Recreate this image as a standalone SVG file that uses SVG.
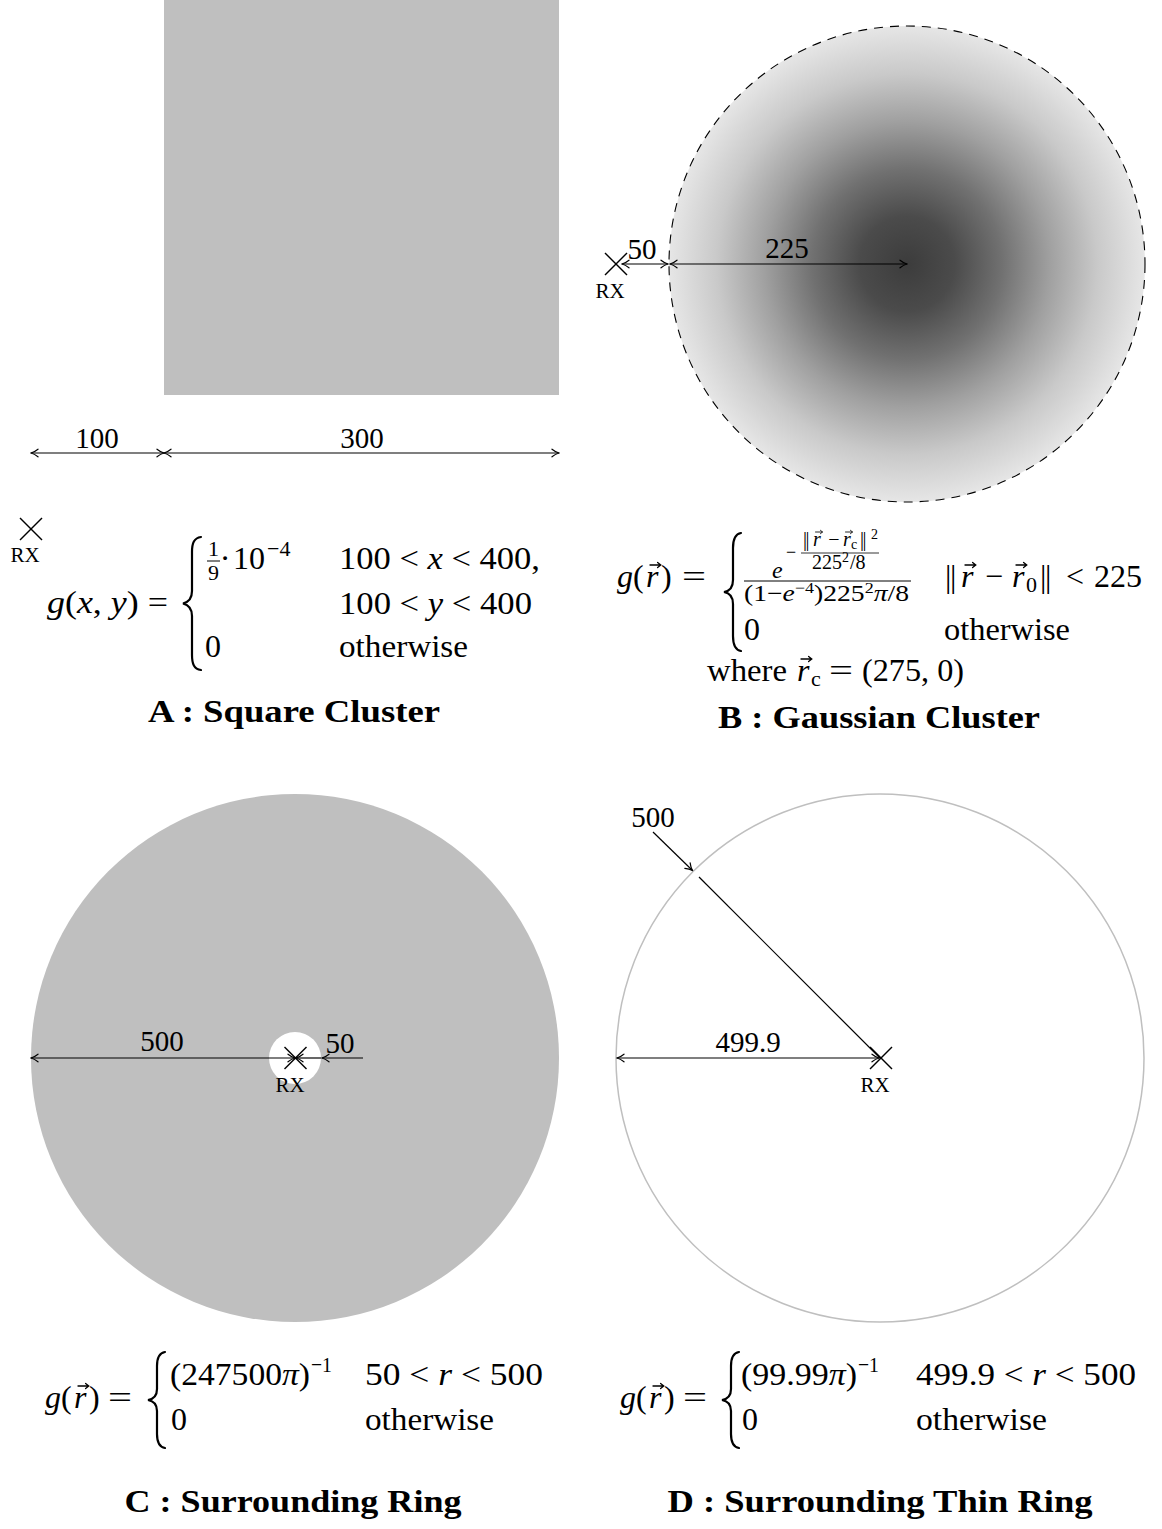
<svg xmlns="http://www.w3.org/2000/svg" width="1162" height="1529" viewBox="0 0 1162 1529">
<style>
.f{font-family:"Liberation Serif","DejaVu Serif",serif;fill:#000}
.m{font-size:32px}
.sm{font-size:22px}
.s2{font-size:20px}
.s1{font-size:14px}
.d{font-size:29px}
.rx{font-size:21px}
.ti{font-size:31px;font-weight:bold}
.i{font-style:italic}
.nb{letter-spacing:-1.5px}
.ln{stroke:#000;stroke-width:1.2;fill:none}
.dim{stroke:#000;stroke-width:1.2;fill:none;marker-start:url(#ah);marker-end:url(#ah)}
.one{stroke:#000;stroke-width:1.2;fill:none;marker-end:url(#ah)}
.br{stroke:#000;stroke-width:2.2;fill:none;stroke-linecap:round}
.cr{stroke:#000;stroke-width:1.4}
.vc{stroke:#000;stroke-width:1.3;fill:none;stroke-linecap:round}
</style>
<defs>
<marker id="ah" viewBox="-8 -5 9 10" refX="0" refY="0" markerWidth="9" markerHeight="10" orient="auto-start-reverse" markerUnits="userSpaceOnUse">
<path d="M-7,-3.8 C-4.5,-1.8 -1.5,-0.4 0,0 C-1.5,0.4 -4.5,1.8 -7,3.8" fill="none" stroke="#000" stroke-width="1.2" stroke-linecap="round"/>
</marker>
<radialGradient id="gb" gradientUnits="userSpaceOnUse" cx="907" cy="264" r="238">
<stop offset="0" stop-color="#3c3c3c"/>
<stop offset="0.2" stop-color="#4b4b4b"/>
<stop offset="0.4" stop-color="#717171"/>
<stop offset="0.6" stop-color="#a0a0a0"/>
<stop offset="0.8" stop-color="#c9c9c9"/>
<stop offset="1" stop-color="#e6e6e6"/>
</radialGradient>
<g id="x"><line class="cr" x1="-11" y1="-11" x2="11" y2="11"/><line class="cr" x1="-11" y1="11" x2="11" y2="-11"/></g>
<path id="vec" class="vc" d="M0,0 H10.5 M7.6,-2.6 L10.8,0 L7.6,2.6"/>
</defs>
<rect width="1162" height="1529" fill="#fff"/>

<!-- Panel A -->
<g id="squareCluster">
<rect x="164" y="0" width="395" height="395" fill="#bfbfbf"/>
</g>
<g id="rxA">
<use href="#x" x="31" y="529"/>
<text class="f rx" x="25" y="562" text-anchor="middle">RX</text>
</g>

<!-- Panel B -->
<g id="gaussianCluster">
<circle cx="907" cy="264" r="238" fill="url(#gb)" stroke="#000" stroke-width="1.1" stroke-dasharray="9 7"/>
</g>
<g id="rxB">
<use href="#x" x="616" y="264"/>
<text class="f rx" x="610" y="298" text-anchor="middle">RX</text>
</g>

<!-- Panel C -->
<g id="surroundingRing">
<circle cx="295" cy="1058" r="264" fill="#bfbfbf"/>
<circle cx="295" cy="1058" r="26" fill="#fff"/>
</g>
<g id="rxC">
<use href="#x" x="295.5" y="1058"/>
<text class="f rx" x="290" y="1092" text-anchor="middle">RX</text>
</g>

<!-- Panel D -->
<g id="surroundingThinRing">
<circle cx="880" cy="1058" r="264" fill="none" stroke="#bfbfbf" stroke-width="1.5"/>
</g>
<g id="rxD">
<use href="#x" x="881" y="1058"/>
<text class="f rx" x="875" y="1092" text-anchor="middle">RX</text>
</g>

<!-- connectors -->
<g id="connectors">
<line class="dim" x1="31" y1="453" x2="164" y2="453"/>
<line class="dim" x1="164" y1="453" x2="559" y2="453"/>
<line class="dim" x1="622" y1="264" x2="668" y2="264"/>
<line class="dim" x1="670" y1="264" x2="907" y2="264"/>
<line class="dim" x1="31" y1="1058" x2="295" y2="1058"/>
<line class="one" x1="321" y1="1058" x2="296" y2="1058"/>
<line class="one" x1="363" y1="1058" x2="322" y2="1058"/>
<line class="dim" x1="617" y1="1058" x2="879" y2="1058"/>
<line class="one" x1="653" y1="832" x2="692.5" y2="870.5"/>
<line class="ln" x1="699" y1="877" x2="880" y2="1058"/>
</g>

<!-- dimension labels -->
<g id="dimLabels">
<text class="f d" x="97" y="448" text-anchor="middle">100</text>
<text class="f d" x="362" y="448" text-anchor="middle">300</text>
<text class="f d" x="642" y="259" text-anchor="middle">50</text>
<text class="f d" x="787" y="258" text-anchor="middle">225</text>
<text class="f d" x="162" y="1051" text-anchor="middle">500</text>
<text class="f d" x="340" y="1053" text-anchor="middle">50</text>
<text class="f d" x="748" y="1052" text-anchor="middle">499.9</text>
<text class="f d" x="653" y="827" text-anchor="middle">500</text>
</g>

<!-- Formula A -->
<g id="formulaA">
<text class="f m" x="47" y="613" textLength="121" lengthAdjust="spacingAndGlyphs"><tspan class="i">g</tspan>(<tspan class="i">x</tspan>, <tspan class="i">y</tspan>) =</text>
<path class="br" d="M201,537 C194,538 192,543 192,552 L192,591 C192,598 189,602 183,603.5 C189,605 192,609 192,616 L192,655 C192,664 194,669 201,670"/>
<text class="f sm" x="208" y="556">1</text>
<line x1="207" y1="561" x2="220" y2="561" stroke="#000" stroke-width="1"/>
<text class="f sm" x="208" y="580">9</text>
<text class="f m" x="225" y="569" text-anchor="middle">·</text>
<text class="f m" x="233" y="569">10</text>
<text class="f sm" x="267" y="556">−4</text>
<text class="f m" x="339" y="569" textLength="201" lengthAdjust="spacingAndGlyphs">100 &lt; <tspan class="i">x</tspan> &lt; 400,</text>
<text class="f m" x="339" y="614" textLength="193" lengthAdjust="spacingAndGlyphs">100 &lt; <tspan class="i">y</tspan> &lt; 400</text>
<text class="f m" x="205" y="657">0</text>
<text class="f m" x="339" y="657" textLength="129" lengthAdjust="spacingAndGlyphs">otherwise</text>
<text class="f ti" x="294" y="722" text-anchor="middle" textLength="292" lengthAdjust="spacingAndGlyphs">A : Square Cluster</text>
</g>

<!-- Formula B -->
<g id="formulaB">
<text class="f m i" x="617" y="587">g</text>
<text class="f m" x="633" y="587">(</text>
<text class="f m i" x="646" y="587">r</text>
<use href="#vec" x="650" y="565"/>
<text class="f m" x="661" y="587">)</text>
<text class="f m" x="682" y="587" textLength="24" lengthAdjust="spacingAndGlyphs">=</text>
<path class="br" d="M741,533 C735,534 733,539 733,548 L733,580 C733,587 730,591 724,592 C730,593 733,597 733,604 L733,636 C733,645 735,650 741,651"/>
<!-- numerator -->
<text class="f i" x="772" y="578" font-size="24">e</text>
<text class="f" x="791" y="558" font-size="18" text-anchor="middle">−</text>
<text class="f s2 nb" x="803" y="546">||</text>
<text class="f s2 i" x="813" y="546">r</text>
<use href="#vec" transform="translate(815.5,532) scale(0.65)"/>
<text class="f s2" x="834" y="546" text-anchor="middle">−</text>
<text class="f s2 i" x="843" y="546">r</text>
<use href="#vec" transform="translate(845.5,532) scale(0.65)"/>
<text class="f s1" x="851" y="549">c</text>
<text class="f s2 nb" x="860" y="546">||</text>
<text class="f s1" x="871" y="539">2</text>
<line x1="801" y1="553" x2="879" y2="553" stroke="#000" stroke-width="0.8"/>
<text class="f s2" x="812" y="569">225</text>
<text class="f s1" x="842" y="562">2</text>
<text class="f s2" x="850" y="569">/8</text>
<line x1="744" y1="581" x2="911" y2="581" stroke="#000" stroke-width="1"/>
<text class="f" font-size="23" x="744" y="601" textLength="165" lengthAdjust="spacingAndGlyphs">(1−<tspan class="i">e</tspan><tspan font-size="15" dy="-8">−4</tspan><tspan dy="8">)225</tspan><tspan font-size="15" dy="-8">2</tspan><tspan class="i" dy="8">π</tspan>/8</text>
<!-- row 1 condition -->
<text class="f m nb" x="945" y="587">||</text>
<text class="f m i" x="961" y="587">r</text>
<use href="#vec" x="965" y="565"/>
<text class="f m" x="994" y="587" text-anchor="middle">−</text>
<text class="f m i" x="1012" y="587">r</text>
<use href="#vec" x="1016" y="565"/>
<text class="f sm" x="1026" y="592">0</text>
<text class="f m nb" x="1040" y="587">||</text>
<text class="f m" x="1075" y="587" text-anchor="middle">&lt;</text>
<text class="f m" x="1094" y="587" textLength="48" lengthAdjust="spacingAndGlyphs">225</text>
<!-- row 2 -->
<text class="f m" x="744" y="640">0</text>
<text class="f m" x="944" y="640" textLength="126" lengthAdjust="spacingAndGlyphs">otherwise</text>
<!-- where -->
<text class="f m" x="707" y="681" textLength="80" lengthAdjust="spacingAndGlyphs">where</text>
<text class="f m i" x="797" y="681">r</text>
<use href="#vec" x="801" y="659"/>
<text class="f sm" x="811" y="686">c</text>
<text class="f m" x="841" y="681" text-anchor="middle" textLength="24" lengthAdjust="spacingAndGlyphs">=</text>
<text class="f m" x="862" y="681" textLength="102" lengthAdjust="spacingAndGlyphs">(275, 0)</text>
<text class="f ti" x="879" y="728" text-anchor="middle" textLength="322" lengthAdjust="spacingAndGlyphs">B : Gaussian Cluster</text>
</g>

<!-- Formula C -->
<g id="formulaC">
<text class="f m i" x="45" y="1408">g</text>
<text class="f m" x="61" y="1408">(</text>
<text class="f m i" x="74" y="1408">r</text>
<use href="#vec" x="78" y="1386"/>
<text class="f m" x="89" y="1408">)</text>
<text class="f m" x="108" y="1408" textLength="24" lengthAdjust="spacingAndGlyphs">=</text>
<path class="br" d="M165,1352 C159,1353 157,1358 157,1366 L157,1389 C157,1395 154,1399 148,1400 C154,1401 157,1405 157,1411 L157,1434 C157,1442 159,1447 165,1448"/>
<text class="f m" x="170" y="1385" textLength="140" lengthAdjust="spacingAndGlyphs">(247500<tspan class="i">π</tspan>)</text>
<text class="f sm" x="311" y="1372" textLength="21" lengthAdjust="spacingAndGlyphs">−1</text>
<text class="f m" x="365" y="1385" textLength="178" lengthAdjust="spacingAndGlyphs">50 &lt; <tspan class="i">r</tspan> &lt; 500</text>
<text class="f m" x="171" y="1430">0</text>
<text class="f m" x="365" y="1430" textLength="129" lengthAdjust="spacingAndGlyphs">otherwise</text>
<text class="f ti" x="293" y="1512" text-anchor="middle" textLength="337" lengthAdjust="spacingAndGlyphs">C : Surrounding Ring</text>
</g>

<!-- Formula D -->
<g id="formulaD">
<text class="f m i" x="620" y="1408">g</text>
<text class="f m" x="636" y="1408">(</text>
<text class="f m i" x="649" y="1408">r</text>
<use href="#vec" x="653" y="1386"/>
<text class="f m" x="664" y="1408">)</text>
<text class="f m" x="683" y="1408" textLength="24" lengthAdjust="spacingAndGlyphs">=</text>
<path class="br" d="M739,1352 C733,1353 731,1358 731,1366 L731,1389 C731,1395 728,1399 722,1400 C728,1401 731,1405 731,1411 L731,1434 C731,1442 733,1447 739,1448"/>
<text class="f m" x="741" y="1385" textLength="116" lengthAdjust="spacingAndGlyphs">(99.99<tspan class="i">π</tspan>)</text>
<text class="f sm" x="858" y="1372" textLength="21" lengthAdjust="spacingAndGlyphs">−1</text>
<text class="f m" x="916" y="1385" textLength="220" lengthAdjust="spacingAndGlyphs">499.9 &lt; <tspan class="i">r</tspan> &lt; 500</text>
<text class="f m" x="742" y="1430">0</text>
<text class="f m" x="916" y="1430" textLength="131" lengthAdjust="spacingAndGlyphs">otherwise</text>
<text class="f ti" x="880" y="1512" text-anchor="middle" textLength="425" lengthAdjust="spacingAndGlyphs">D : Surrounding Thin Ring</text>
</g>
</svg>
